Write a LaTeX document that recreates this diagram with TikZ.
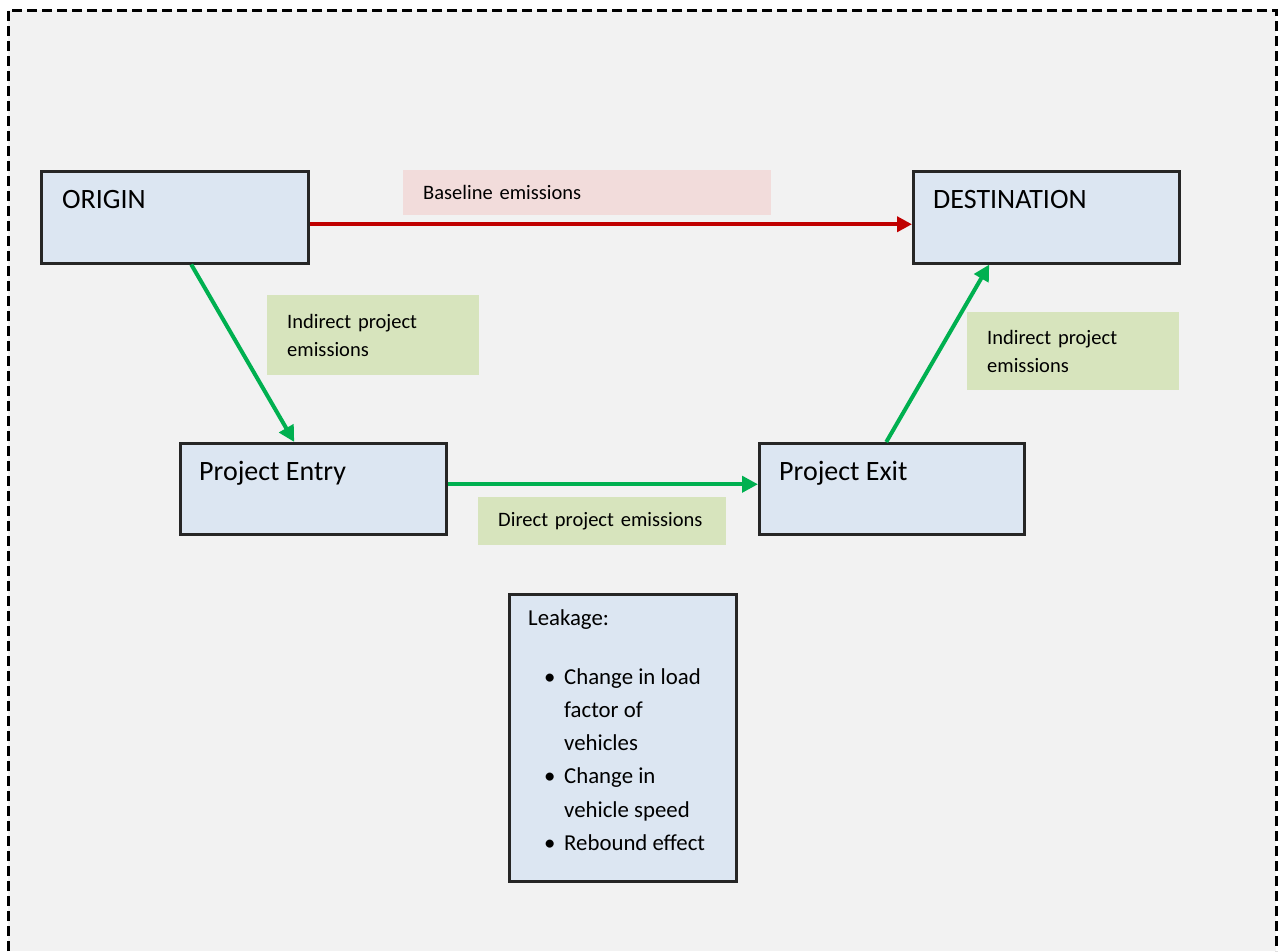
\documentclass[tikz,border=0pt]{standalone}
\usepackage{fontspec}
\setmainfont{Carlito}
\usetikzlibrary{arrows.meta,positioning}

\definecolor{paper}{HTML}{F2F2F2}
\definecolor{boxblue}{HTML}{DCE6F2}
\definecolor{tagpink}{HTML}{F2DCDB}
\definecolor{taggreen}{HTML}{D7E4BD}
\definecolor{basered}{HTML}{C00000}
\definecolor{project}{HTML}{00B050}

\begin{document}
\begin{tikzpicture}[x=1pt,y=-1pt,>={Triangle[length=16pt,width=16pt]},
	place/.style={draw=black!85, line width=2.5pt, fill=boxblue, anchor=north west, inner sep=0pt},
	title/.style={anchor=base west, inner sep=0pt, font=\fontsize{28}{34}\selectfont},
	tag/.style={anchor=north west, align=left, inner xsep=20pt, inner ysep=0pt, font=\fontsize{20.5}{28}\selectfont},
	flow/.style={->, line width=4pt, project}]
	\useasboundingbox (0,0) rectangle (1281,951);
	
	% Rahmen
	\fill[paper] (8,10) rectangle (1276,951);
	\draw[line width=3pt, dash pattern=on 10pt off 5pt] (8,951) -- (8,10) -- (1276,10) -- (1276,951);
	
	% Orte
	\node[place, minimum width=267pt, minimum height=92pt] (origin) at (40,170) {};
	\node[title] at ([xshift=22pt,yshift=-38pt]origin.north west) {ORIGIN};
	\node[place, minimum width=266pt, minimum height=92pt] (dest) at (912,170) {};
	\node[title] at ([xshift=21pt,yshift=-38pt]dest.north west) {DESTINATION};
	\node[place, minimum width=266pt, minimum height=91pt] (entry) at (179,442) {};
	\node[title] at ([xshift=20pt,yshift=-38pt]entry.north west) {Project Entry};
	\node[place, minimum width=265pt, minimum height=91pt] (exit) at (758,442) {};
	\node[title] at ([xshift=21pt,yshift=-38pt]exit.north west) {Project Exit};
	
	% Beschriftungen
	\node[tag, fill=tagpink, text width=328pt, minimum height=45pt] (basetag) at (403,170) {Baseline emissions};
	\node[tag, fill=taggreen, text width=172pt, minimum height=80pt] (intag) at (267,295) {Indirect project\\emissions};
	\node[tag, fill=taggreen, text width=172pt, minimum height=78pt] (outtag) at (967,312) {Indirect project\\emissions};
	\node[tag, fill=taggreen, text width=208pt, minimum height=48pt] (directtag) at (478,497) {Direct project emissions};
	
	% Pfeile
	\draw[->, line width=4pt, basered, >={Triangle[length=15pt,width=15pt]}] ([yshift=-7pt]origin.east) -- ([yshift=-7pt]dest.west);
	\draw[flow] ([xshift=16.5pt]origin.south) -- ([xshift=-19pt]entry.north);
	\draw[flow] ([yshift=4.5pt]entry.east) -- ([yshift=4.5pt]exit.west);
	\draw[flow] ([xshift=-5.5pt]exit.north) -- ([xshift=-57pt]dest.south);
	
	% Leakage
	\node[place, minimum width=227pt, minimum height=287pt] (leak) at (508,593) {};
	\node[anchor=north west, align=left, inner sep=0pt, font=\fontsize{22.8}{33.3}\selectfont]
		at ([xshift=20pt,yshift=-16pt]leak.north west) {Leakage:\\[25.7pt]
		\hspace*{16pt}\makebox[20pt][l]{\textbullet}Change in load\\
		\hspace*{36pt}factor of\\
		\hspace*{36pt}vehicles\\
		\hspace*{16pt}\makebox[20pt][l]{\textbullet}Change in\\
		\hspace*{36pt}vehicle speed\\
		\hspace*{16pt}\makebox[20pt][l]{\textbullet}Rebound effect};
\end{tikzpicture}
\end{document}
